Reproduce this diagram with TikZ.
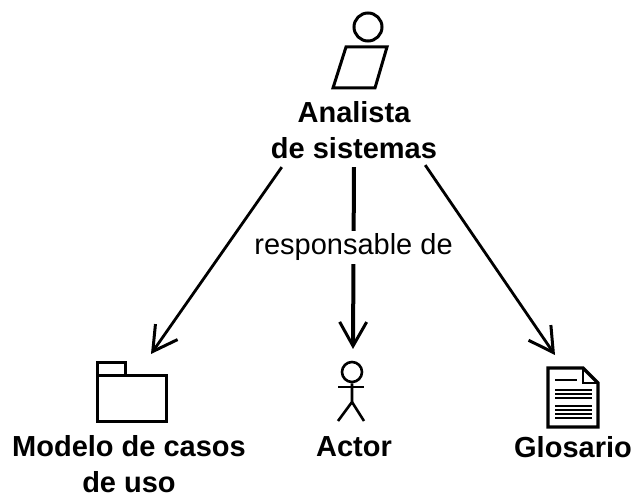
\documentclass[tikz,border=0pt]{standalone}
\usepackage{fontspec}
\setmainfont{Liberation Sans}
\usetikzlibrary{positioning,arrows.meta}

\tikzset{
    etiqueta/.style={font=\fontsize{29}{36.5}\selectfont\bfseries,align=center,inner sep=0pt},
    icono/.style={draw,line width=3pt,inner sep=0pt,fill=white},
    flecha/.style={line width=2.8pt,-{Straight Barb[length=24pt,width=27pt,line width=3pt]}},
}

\begin{document}
\begin{tikzpicture}[x=1pt,y=-1pt]
    \useasboundingbox (0,0) rectangle (641,500);
    % trabajador
    \node[icono,circle,minimum size=28pt] (cabeza) at (368,27) {};
    \draw[line width=3pt] (346,47) -- (387,47) -- (375,88) -- (333,88) -- cycle;
    \node[etiqueta] (analista) at (354,130) {Analista\\de sistemas};
    % paquete
    \draw[line width=3pt] (97,375) -- (97,363) -- (125,363) -- (125,375);
    \node[icono,minimum width=69pt,minimum height=46pt] (modelo) at (131.5,398) {};
    \node[etiqueta] (modelotxt) at (129,464) {Modelo de casos\\de uso};
    % actor
    \node[icono,circle,minimum size=20pt,line width=2.6pt] (cabezaactor) at (352,372) {};
    \draw[line width=2.6pt] (cabezaactor) -- (352,402) -- (338,421);
    \draw[line width=2.6pt] (352,402) -- (364,421);
    \draw[line width=2.6pt] (338,387) -- (364,387);
    \node[etiqueta] (actor) at (354,447) {Actor};
    % documento
    \draw[line width=3.2pt,fill=white] (548,368) -- (583,368) -- (598,383) -- (598,427) -- (548,427) -- cycle;
    \draw[line width=2pt] (583,368) -- (583,383) -- (598,383);
    \foreach \yy in {390,394,398}
        \draw[line width=2.4pt] (555,\yy) -- (592,\yy);
    \foreach \yy in {406,410,414,418}
        \draw[line width=1.4pt] (555,\yy) -- (592,\yy);
    \draw[line width=2pt] (555,380) -- (577,380);
    \node[etiqueta] (glosario) at (573,447) {Glosario};
    % relaciones
    \coordinate (finmodelo) at (151,354);
    \coordinate (finactor) at (353,349);
    \coordinate (finglosario) at (555,355);
    \draw[flecha] ([xshift=11pt,yshift=-8pt]analista.south west) -- (finmodelo);
    \draw[flecha,line width=4pt] ([yshift=-8pt]analista.south) -- (finactor)
        node[pos=0.44,fill=white,inner sep=3pt,font=\fontsize{29}{35}\selectfont] (responsable) {responsable de};
    \draw[flecha] ([xshift=-12pt,yshift=-6pt]analista.south east) -- (finglosario);
\end{tikzpicture}
\end{document}
